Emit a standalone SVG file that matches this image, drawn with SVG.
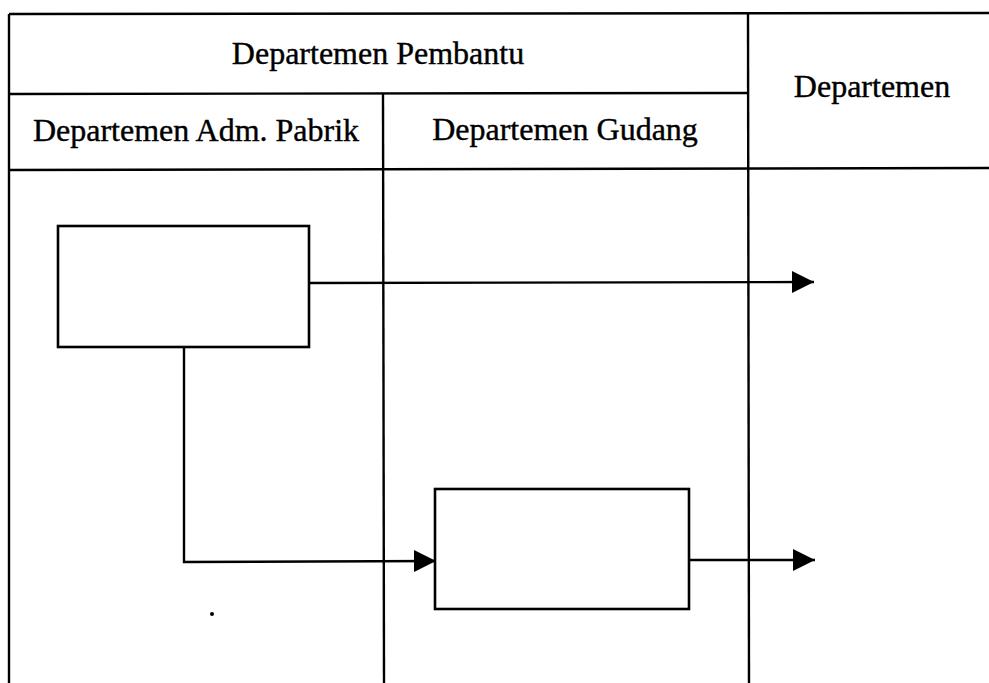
<svg xmlns="http://www.w3.org/2000/svg" width="989" height="683" viewBox="0 0 989 683">
<style>
.ln{stroke:#000;stroke-width:2.4;fill:none}
.bx{stroke:#000;stroke-width:2.6;fill:#fff}
.t{font-family:"Liberation Serif","Times New Roman",serif;font-size:32px;fill:#000;stroke:#000;stroke-width:0.4;text-anchor:middle}
</style>
<defs>
<marker id="ah" markerUnits="userSpaceOnUse" markerWidth="24" markerHeight="24" refX="22" refY="11" orient="auto">
<path d="M0,0 L22,11 L0,22 Z" fill="#000"/>
</marker>
</defs>
<rect width="989" height="683" fill="#fff"/>
<g id="table">
<line class="ln" x1="9" y1="14" x2="989" y2="13"/>
<line class="ln" x1="9" y1="14" x2="9" y2="683"/>
<line class="ln" x1="9" y1="94" x2="748" y2="93"/>
<line class="ln" x1="9" y1="170" x2="989" y2="168"/>
<line class="ln" x1="383" y1="94" x2="384" y2="683"/>
<line class="ln" x1="748" y1="13" x2="749" y2="683"/>
<text class="t" x="378" y="64">Departemen Pembantu</text>
<text class="t" x="196" y="141">Departemen Adm. Pabrik</text>
<text class="t" x="565" y="140">Departemen Gudang</text>
<text class="t" x="872" y="97">Departemen</text>
</g>
<g id="node1">
<rect class="bx" x="58" y="226" width="251" height="121"/>
</g>
<g id="node2">
<rect class="bx" x="435" y="489" width="254" height="120"/>
</g>
<g id="connectors">
<polyline class="ln" points="309,283 814,282" marker-end="url(#ah)"/>
<polyline class="ln" points="184,347 184,562 436,561" marker-end="url(#ah)"/>
<polyline class="ln" points="689,560 815,560" marker-end="url(#ah)"/>
</g>
<circle cx="212" cy="614" r="2" fill="#000"/>
</svg>
